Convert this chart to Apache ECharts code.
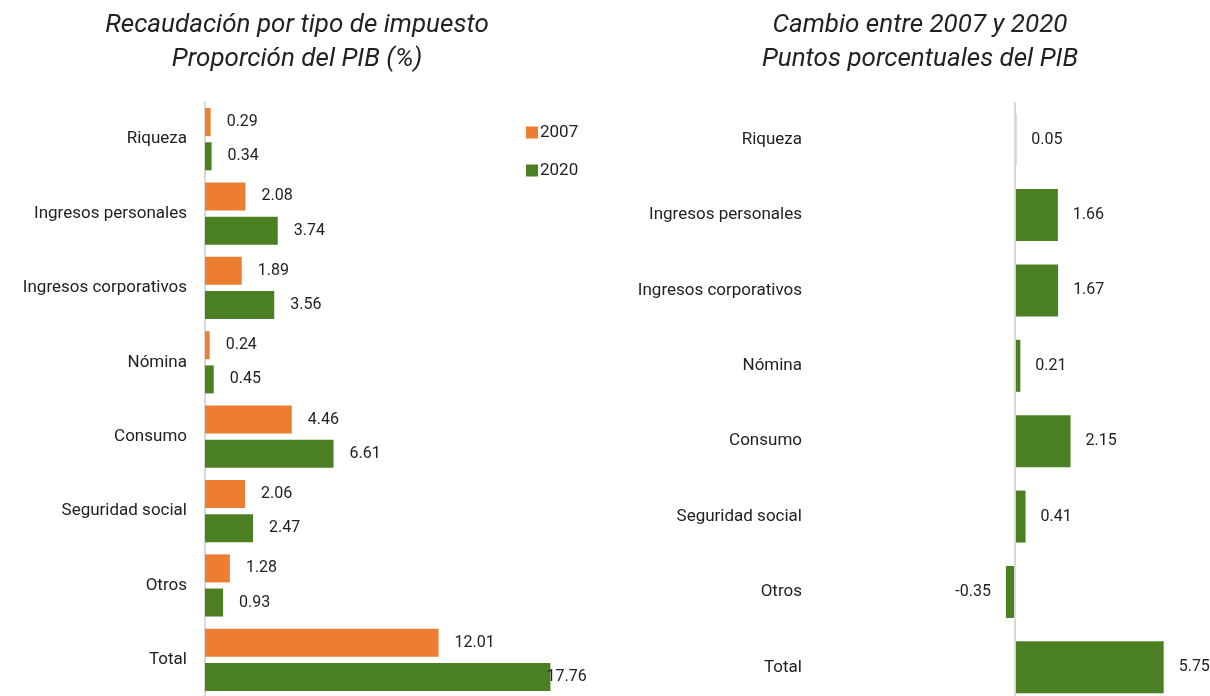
<!DOCTYPE html>
<html>
<head>
<meta charset="utf-8">
<script src="https://cdn.jsdelivr.net/npm/echarts@6/dist/echarts.min.js"></script>
<style>
  html, body { margin: 0; padding: 0; background: #fff; }
  #chart { width: 1210px; height: 696px; }
</style>
</head>
<body>
<div id="chart"></div>
<script>
// categorías de impuesto
const categorias = ['Riqueza', 'Ingresos personales', 'Ingresos corporativos', 'Nómina',
  'Consumo', 'Seguridad social', 'Otros', 'Total'];
// % del PIB
const valores2007 = [0.29, 2.08, 1.89, 0.24, 4.46, 2.06, 1.28, 12.01];
const valores2020 = [0.34, 3.74, 3.56, 0.45, 6.61, 2.47, 0.93, 17.76];
// cambio en puntos porcentuales
const cambio = [0.05, 1.66, 1.67, 0.21, 2.15, 0.41, -0.35, 5.75];

const naranja = '#ED7D31';
const verde = '#4A8022';
const fuente = 'Roboto';
const texto = '#222';

const chart = echarts.init(document.getElementById('chart'));

const valueLabel = {
  show: true,
  position: 'right',
  distance: 16,
  color: texto,
  fontFamily: fuente,
  fontSize: 16,
  formatter: p => p.value.toFixed(2)
};

const catLabel = { color: texto, fontFamily: fuente, fontSize: 17 };

const option = {
  animation: false,
  textStyle: { fontFamily: fuente },
  title: [
    {
      text: 'Recaudación por tipo de impuesto\nProporción del PIB (%)',
      left: 292, top: 3, textAlign: 'center',
      textStyle: { fontFamily: fuente, fontStyle: 'italic', fontWeight: 'normal', fontSize: 26, lineHeight: 34, color: texto }
    },
    {
      text: 'Cambio entre 2007 y 2020\nPuntos porcentuales del PIB',
      left: 915, top: 3, textAlign: 'center',
      textStyle: { fontFamily: fuente, fontStyle: 'italic', fontWeight: 'normal', fontSize: 26, lineHeight: 34, color: texto }
    }
  ],
  legend: {
    data: ['2007', '2020'],
    orient: 'vertical',
    left: 521, top: 119,
    itemWidth: 12, itemHeight: 12, itemGap: 21,
    icon: 'rect',
    textStyle: { fontFamily: fuente, fontSize: 17, color: texto, padding: [0, 0, 0, -3] }
  },
  grid: [
    { left: 205, top: 102, width: 389, height: 595, outerBoundsMode: 'none' },
    { left: 808, top: 102, width: 388, height: 603, outerBoundsMode: 'none' }
  ],
  xAxis: [
    { type: 'value', gridIndex: 0, min: 0, max: 20, show: false },
    { type: 'value', gridIndex: 1, min: -8, max: 7, show: false }
  ],
  yAxis: [
    {
      type: 'category', gridIndex: 0, data: categorias, inverse: true,
      axisLine: { show: true, lineStyle: { color: '#d9d9d9', width: 2 } },
      axisTick: { show: false },
      axisLabel: Object.assign({ margin: 18 }, catLabel)
    },
    {
      type: 'category', gridIndex: 1, data: categorias, inverse: true,
      axisLine: { show: false, onZero: false },
      axisTick: { show: false },
      axisLabel: Object.assign({ margin: 6 }, catLabel)
    }
  ],
  series: [
    {
      name: '2007', type: 'bar', xAxisIndex: 0, yAxisIndex: 0,
      barWidth: 28, barGap: '22%',
      itemStyle: { color: naranja },
      label: valueLabel,
      data: valores2007
    },
    {
      name: '2020', type: 'bar', xAxisIndex: 0, yAxisIndex: 0,
      barWidth: 28,
      itemStyle: { color: verde },
      label: valueLabel,
      data: valores2020.map((v, i) => i === valores2020.length - 1
        ? { value: v, label: { distance: -4 } } : v)
    },
    {
      name: 'Cambio', type: 'bar', xAxisIndex: 1, yAxisIndex: 1,
      barWidth: 52,
      itemStyle: { color: verde },
      label: {
        show: true, distance: 15, color: texto, fontFamily: fuente, fontSize: 16,
        position: 'right',
        formatter: p => p.value.toFixed(2)
      },
      data: cambio.map(v => v < 0 ? { value: v, label: { position: 'left' } } : v),
      markLine: {
        silent: true, symbol: 'none', label: { show: false },
        lineStyle: { color: '#d9d9d9', width: 2, type: 'solid' },
        data: [{ xAxis: 0 }]
      }
    }
  ]
};

chart.setOption(option);
</script>
</body>
</html>
